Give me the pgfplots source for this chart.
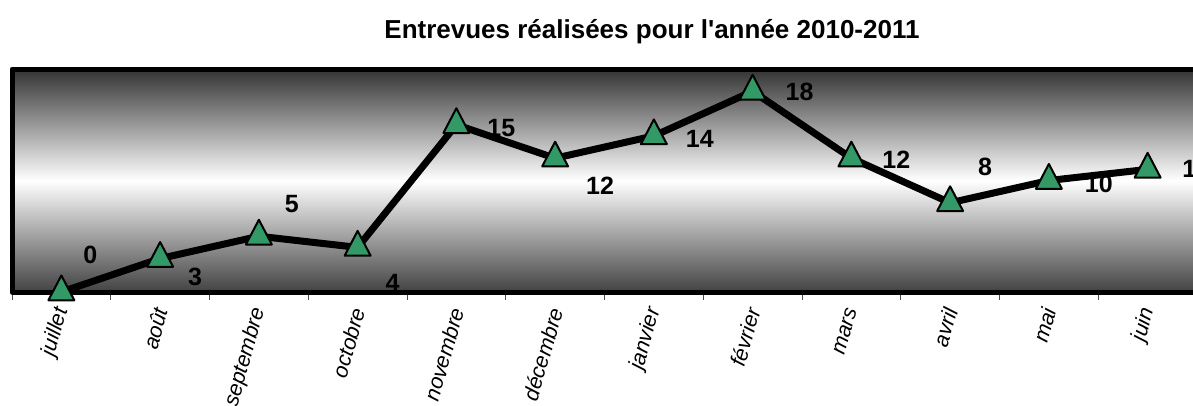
\documentclass[border=0pt]{standalone}
\usepackage{pgfplots}
\usepackage{pgfplotstable}
\pgfplotsset{compat=1.18}
\usepackage{fontspec}
\setmainfont{Liberation Sans}[Ligatures=TeXOff]
\definecolor{mk}{HTML}{339966}
\pgfplotstableread{
x y dx dy
0 0 29 37
1 3 35 -18
2 5 33 32
3 4 35 -35
4 15 45 -3
5 12 45 -28
6 14 46 -3
7 18 47 -1
8 12 45 -2
9 8 35 36
10 10 50 -3
11 11 48 0
}\datatable
\begin{document}
\begin{tikzpicture}[x=1pt,y=1pt]
\path[use as bounding box] (0,0) rectangle (1193,405);
\node[font=\bfseries\fontsize{26}{26}\selectfont] at (652,373) {Entrevues réalisées pour l'année 2010-2011};
\begin{axis}[
  at={(12pt,113pt)}, anchor=south west,
  scale only axis, width=1185pt, height=223pt,
  xmin=-0.5, xmax=11.5, ymin=0, ymax=20,
  clip=false,
  /pgf/number format/assume math mode=true,
  axis background/.style={top color=black!80, bottom color=black!74, middle color=white},
  axis line style={line width=5pt, line join=round, black},
  ytick=\empty,
  xtick={0,...,11},
  xticklabels={juillet,août,septembre,octobre,novembre,décembre,janvier,février,mars,avril,mai,juin},
  minor xtick={-0.5,0.5,...,11.5},
  tick pos=bottom,
  tick align=outside,
  major tick length=0pt,
  minor tick length=8pt,
  minor tick style={line width=1pt, black!70},
  xticklabel style={yshift=-13pt, xshift=2pt, rotate=74, anchor=east, font=\itshape\fontsize{21.5}{21.5}\selectfont},
]
\addplot[line width=7pt, black, line join=round,
  mark=triangle*, mark size=15pt,
  mark options={fill=mk, draw=black, line width=2pt, yscale=1.1},
  nodes near coords={\pgfmathprintnumber{\pgfplotspointmeta}},
  point meta=explicit,
  visualization depends on={\thisrow{dx}\as\dx},
  visualization depends on={\thisrow{dy}\as\dy},
  nodes near coords style={anchor=center, xshift=\dx pt, yshift=\dy pt, font=\bfseries\fontsize{25}{25}\selectfont, text=black},
] table[x=x, y=y, meta=y] {\datatable};
\end{axis}
\end{tikzpicture}
\end{document}
